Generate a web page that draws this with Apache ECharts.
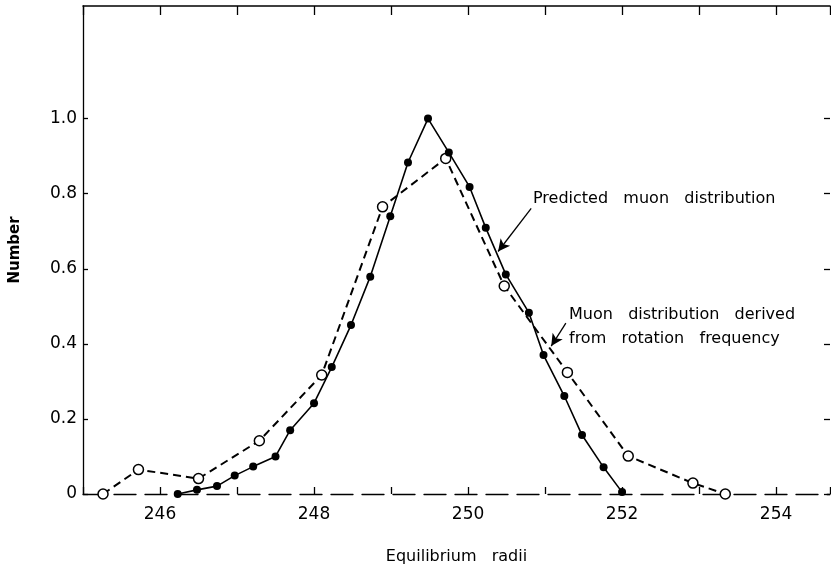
<!DOCTYPE html>
<html>
<head>
<meta charset="utf-8">
<script src="https://cdn.jsdelivr.net/npm/echarts@6/dist/echarts.min.js"></script>
<style>
  html, body { margin: 0; padding: 0; background: #fff; }
  #chart { width: 831px; height: 570px; }
</style>
</head>
<body>
<div id="chart"></div>
<script>
// predicted muon distribution (filled circles, solid line)
var predictedX = [246.23, 246.48, 246.74, 246.97, 247.21, 247.50, 247.69, 248.00, 248.23, 248.48, 248.73, 248.99,
  249.22, 249.48, 249.75, 250.02, 250.23, 250.49, 250.79, 250.98, 251.25, 251.48, 251.76, 252.00]
var predictedY = [0.0, 0.011, 0.021, 0.049, 0.073, 0.100, 0.170, 0.242, 0.338, 0.450, 0.579, 0.740,
  0.883, 1.0, 0.910, 0.818, 0.709, 0.585, 0.483, 0.370, 0.261, 0.157, 0.071, 0.005]

// derived from rotation frequency (open circles, dashed line)
var derivedX = [245.26, 245.72, 246.50, 247.29, 248.10, 248.89, 249.71, 250.47, 251.29, 252.08, 252.92, 253.34]
var derivedY = [0.0, 0.065, 0.041, 0.142, 0.317, 0.765, 0.894, 0.554, 0.324, 0.101, 0.029, 0.0]

var xLabels = [246, 248, 250, 252, 254]
var yLabels = [0, 0.2, 0.4, 0.6, 0.8, 1.0]

// arrow annotations [from, to] in data units
var arrowPredicted = [[250.82, 0.761], [250.39, 0.646]]
var arrowDerived = [[251.27, 0.455], [251.08, 0.394]]

function pairs(xs, ys) {
  return xs.map(function (x, i) { return [x, ys[i]] })
}

var font = 'DejaVu Sans'
var chart = echarts.init(document.getElementById('chart'))

var option = {
  backgroundColor: '#fff',
  animation: false,
  grid: { left: 83, right: 1, top: 6, bottom: 75 },
  xAxis: [
    {
      type: 'value',
      min: 245,
      max: 254.7,
      interval: 1,
      position: 'bottom',
      name: 'Equilibrium   radii',
      nameLocation: 'middle',
      nameGap: 55,
      nameTextStyle: { fontFamily: font, fontSize: 16, color: '#000' },
      axisLine: { show: true, onZero: false, lineStyle: { color: '#000', width: 1.3, type: [22, 9] } },
      axisTick: { show: true, inside: true, length: 7, lineStyle: { color: '#000', width: 1.3 } },
      axisLabel: {
        customValues: xLabels,
        margin: 12,
        fontFamily: font,
        fontSize: 17,
        color: '#000'
      },
      splitLine: { show: false }
    },
    {
      type: 'value',
      min: 245,
      max: 254.7,
      interval: 1,
      position: 'top',
      axisLine: { show: true, onZero: false, lineStyle: { color: '#000', width: 1.5 } },
      axisTick: { show: true, inside: true, length: 9, lineStyle: { color: '#000', width: 1.3 } },
      axisLabel: { show: false },
      splitLine: { show: false }
    }
  ],
  yAxis: [
    {
      type: 'value',
      min: 0,
      max: 1.3,
      position: 'left',
      name: 'Number',
      nameLocation: 'middle',
      nameGap: 60,
      nameRotate: 90,
      nameTextStyle: { fontFamily: font, fontSize: 15, fontWeight: 'bold', color: '#000' },
      axisLine: { show: true, onZero: false, lineStyle: { color: '#000', width: 1.3 } },
      axisTick: { show: true, inside: true, length: 5, customValues: yLabels, lineStyle: { color: '#000', width: 1.3 } },
      axisLabel: {
        customValues: yLabels,
        margin: 6,
        fontFamily: font,
        fontSize: 17,
        color: '#000',
        formatter: function (v) { return v === 0 ? '0' : v.toFixed(1) }
      },
      splitLine: { show: false }
    },
    {
      type: 'value',
      min: 0,
      max: 1.3,
      position: 'right',
      axisLine: { show: false, onZero: false },
      axisTick: { show: true, inside: true, length: 6, customValues: yLabels, lineStyle: { color: '#000', width: 1.3 } },
      axisLabel: { show: false },
      splitLine: { show: false }
    }
  ],
  series: [
    {
      name: 'Muon distribution derived from rotation frequency',
      type: 'line',
      data: pairs(derivedX, derivedY),
      symbol: 'circle',
      symbolSize: 10,
      lineStyle: { color: '#000', width: 2, type: [8, 5] },
      itemStyle: { color: '#fff', borderColor: '#000', borderWidth: 1.5 },
      markLine: {
        silent: true,
        symbol: ['none', 'arrow'],
        symbolSize: [9, 12],
        label: { show: false },
        lineStyle: { color: '#000', width: 1.3, type: 'solid' },
        data: [[{ coord: arrowDerived[0] }, { coord: arrowDerived[1] }]]
      },
      z: 2
    },
    {
      name: 'Predicted muon distribution',
      type: 'line',
      data: pairs(predictedX, predictedY),
      symbol: 'circle',
      symbolSize: 8,
      lineStyle: { color: '#000', width: 1.6 },
      itemStyle: { color: '#000' },
      markLine: {
        silent: true,
        symbol: ['none', 'arrow'],
        symbolSize: [9, 12],
        label: { show: false },
        lineStyle: { color: '#000', width: 1.3, type: 'solid' },
        data: [[{ coord: arrowPredicted[0] }, { coord: arrowPredicted[1] }]]
      },
      z: 3
    }
  ],
  graphic: [
    {
      type: 'text',
      left: 533,
      top: 191,
      style: { text: 'Predicted   muon   distribution', fontFamily: font, fontSize: 16, fill: '#000' }
    },
    {
      type: 'text',
      left: 569,
      top: 303,
      style: {
        text: 'Muon   distribution   derived\nfrom   rotation   frequency',
        fontFamily: font,
        fontSize: 16,
        lineHeight: 24,
        fill: '#000'
      }
    }
  ]
}

chart.setOption(option)
</script>
</body>
</html>
